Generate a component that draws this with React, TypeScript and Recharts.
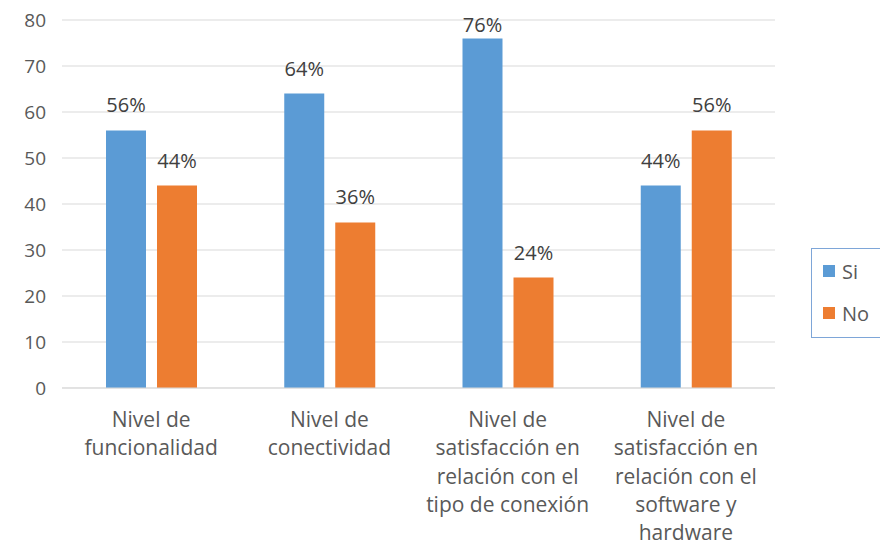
import React from "react";
import {
  BarChart,
  Bar,
  XAxis,
  YAxis,
  CartesianGrid,
  Legend,
  LabelList,
} from "recharts";

// categories, one entry per line of the axis label
const CATEGORY_LINES: string[][] = [
  ["Nivel de", "funcionalidad"],
  ["Nivel de", "conectividad"],
  ["Nivel de", "satisfacción en", "relación con el", "tipo de conexión"],
  ["Nivel de", "satisfacción en", "relación con el", "software y", "hardware"],
];
const SI = [56, 64, 76, 44];
const NO = [44, 36, 24, 56];
const Y_TICKS = [0, 10, 20, 30, 40, 50, 60, 70, 80];

const data = CATEGORY_LINES.map((lines, i) => ({
  name: lines.join(" "),
  si: SI[i],
  no: NO[i],
}));

const FONT = "'Open Sans', 'Liberation Sans', sans-serif";
const BLUE = "#5B9BD5";
const ORANGE = "#ED7D31";

const CategoryTick = (props: any) => {
  const { x, y, index } = props;
  const lines = CATEGORY_LINES[index] || [];
  return (
    <g transform={`translate(${x},${y})`}>
      {lines.map((line, i) => (
        <text
          key={i}
          x={0}
          y={31 + i * 28.3}
          textAnchor="middle"
          fill="#595959"
          fontSize={21}
          fontFamily={FONT}
        >
          {line}
        </text>
      ))}
    </g>
  );
};

// percent label above the bar, kept inside the chart like Excel does
const PercentLabel = (props: any) => {
  const { x, y, width, value } = props;
  const baseline = Math.max(Number(y) - 18, 32);
  return (
    <text
      x={Number(x) + Number(width) / 2}
      y={baseline}
      textAnchor="middle"
      fill="#404040"
      fontSize={20}
      fontFamily={FONT}
    >
      {`${value}%`}
    </text>
  );
};

const LegendBox = () => (
  <div
    style={{
      border: "1px solid #7EA6D8",
      width: 70,
      height: 90,
      boxSizing: "border-box",
      padding: "9px 0 0 11px",
      fontFamily: FONT,
      fontSize: 20,
      color: "#595959",
      background: "#fff",
    }}
  >
    {[
      { label: "Si", color: BLUE },
      { label: "No", color: ORANGE },
    ].map((item) => (
      <div
        key={item.label}
        style={{ display: "flex", alignItems: "center", height: 26, marginBottom: 16 }}
      >
        <span
          style={{
            width: 12,
            height: 12,
            background: item.color,
            display: "inline-block",
            marginRight: 7,
          }}
        />
        {item.label}
      </div>
    ))}
  </div>
);

export default function App() {
  return (
    <div style={{ position: "absolute", left: 0, top: 0, width: 880, height: 548, background: "#fff" }}>
      <BarChart
        width={880}
        height={548}
        data={data}
        margin={{ top: 20, right: 35, bottom: 130, left: 0 }}
        barGap={11}
      >
        <CartesianGrid vertical={false} stroke="#D9D9D9" />
        <XAxis
          dataKey="name"
          tick={<CategoryTick />}
          tickLine={false}
          axisLine={{ stroke: "#D9D9D9" }}
          interval={0}
        />
        <YAxis
          width={62}
          domain={[0, 80]}
          ticks={Y_TICKS}
          tickLine={false}
          axisLine={false}
          tickMargin={10}
          tick={{ fill: "#595959", fontSize: 19, fontFamily: FONT }}
        />
        <Legend
          layout="vertical"
          align="right"
          verticalAlign="middle"
          content={<LegendBox />}
          wrapperStyle={{ position: "absolute", left: 811, top: 248, width: 70 }}
        />
        <Bar dataKey="si" name="Si" fill={BLUE} barSize={40} isAnimationActive={false}>
          <LabelList dataKey="si" content={<PercentLabel />} />
        </Bar>
        <Bar dataKey="no" name="No" fill={ORANGE} barSize={40} isAnimationActive={false}>
          <LabelList dataKey="no" content={<PercentLabel />} />
        </Bar>
      </BarChart>
    </div>
  );
}
